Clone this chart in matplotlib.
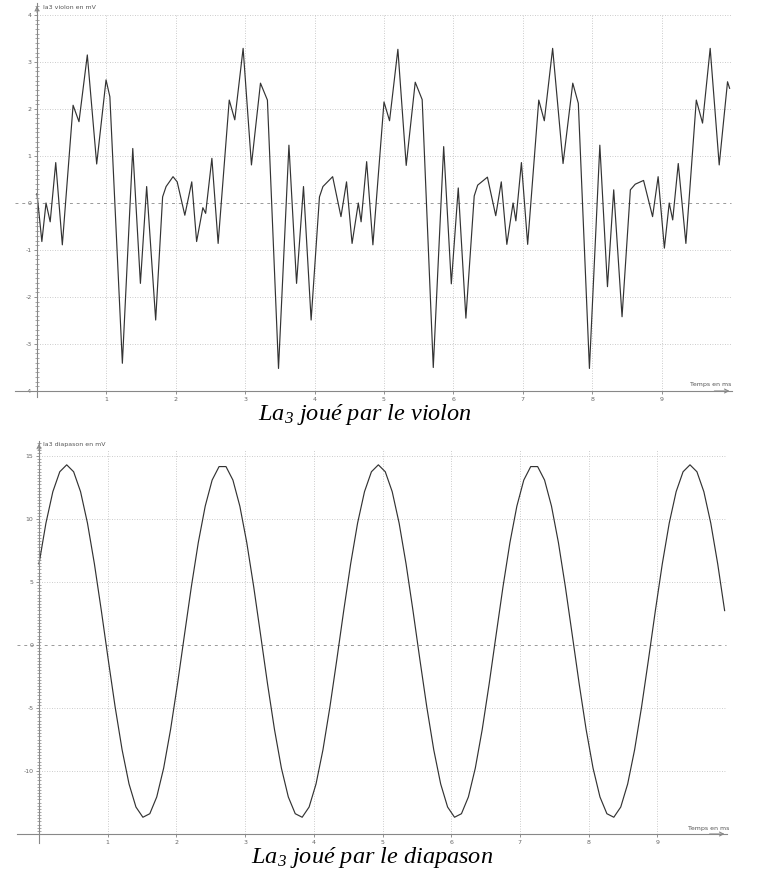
import numpy as np
import matplotlib.pyplot as plt

plt.rcParams['axes.unicode_minus'] = False
plt.rcParams['mathtext.fontset'] = 'custom'
plt.rcParams['mathtext.rm'] = 'Liberation Serif:italic'
plt.rcParams['mathtext.it'] = 'Liberation Serif:italic'

# trace of the violin (time in ms, tension in mV)
violon_t = [0.00, 0.07, 0.13, 0.19, 0.27, 0.365, 0.52, 0.605, 0.725, 0.86, 0.995, 1.05,
            1.23, 1.38, 1.49, 1.58, 1.71, 1.81, 1.86, 1.96, 2.02, 2.13, 2.23, 2.30,
            2.39, 2.43, 2.52, 2.61, 2.77, 2.85, 2.97, 3.09, 3.22, 3.32, 3.48, 3.63,
            3.74, 3.84, 3.95, 4.07, 4.12, 4.26, 4.38, 4.46, 4.54, 4.63, 4.67, 4.75,
            4.84, 5.00, 5.08, 5.20, 5.32, 5.45, 5.55, 5.71, 5.86, 5.97, 6.07, 6.18,
            6.30, 6.35, 6.49, 6.61, 6.69, 6.77, 6.86, 6.90, 6.98, 7.07, 7.23, 7.31,
            7.43, 7.58, 7.72, 7.80, 7.96, 8.11, 8.22, 8.31, 8.43, 8.55, 8.62, 8.74,
            8.87, 8.95, 9.04, 9.11, 9.16, 9.24, 9.35, 9.50, 9.59, 9.70, 9.83, 9.95, 9.98]
violon_v = [0.20, -0.82, 0.00, -0.40, 0.86, -0.89, 2.08, 1.73, 3.15, 0.83, 2.62, 2.26,
            -3.41, 1.16, -1.71, 0.35, -2.49, 0.13, 0.35, 0.56, 0.45, -0.26, 0.45, -0.82,
            -0.10, -0.22, 0.95, -0.86, 2.19, 1.77, 3.29, 0.81, 2.55, 2.19, -3.52, 1.23,
            -1.71, 0.35, -2.49, 0.13, 0.35, 0.56, -0.29, 0.45, -0.86, 0.00, -0.40, 0.88,
            -0.89, 2.15, 1.75, 3.27, 0.80, 2.57, 2.20, -3.50, 1.20, -1.72, 0.32, -2.45,
            0.15, 0.38, 0.55, -0.27, 0.45, -0.88, 0.00, -0.38, 0.86, -0.88, 2.19, 1.75,
            3.29, 0.84, 2.55, 2.12, -3.52, 1.23, -1.78, 0.28, -2.42, 0.28, 0.40, 0.48,
            -0.29, 0.56, -0.96, 0.00, -0.36, 0.84, -0.86, 2.19, 1.70, 3.29, 0.81, 2.58, 2.44]

# tuning fork trace, 100 samples over the capture
diapason_t = np.linspace(0, 9.98, 100)
diapason_v = [6.44, 9.67, 12.17, 13.75, 14.30, 13.75, 12.17, 9.67, 6.44, 2.73,
              -1.17, -4.94, -8.32, -11.03, -12.86, -13.67, -13.39, -12.06, -9.77, -6.70,
              -3.09, 0.79, 4.63, 8.13, 11.02, 13.09, 14.16, 14.16, 13.09, 11.02,
              8.13, 4.63, 0.79, -3.09, -6.70, -9.77, -12.06, -13.39, -13.67, -12.86,
              -11.03, -8.32, -4.94, -1.17, 2.73,
              6.44, 9.67, 12.17, 13.75, 14.30, 13.75, 12.17, 9.67, 6.44, 2.73,
              -1.17, -4.94, -8.32, -11.03, -12.86, -13.67, -13.39, -12.06, -9.77, -6.70,
              -3.09, 0.79, 4.63, 8.13, 11.02, 13.09, 14.16, 14.16, 13.09, 11.02,
              8.13, 4.63, 0.79, -3.09, -6.70, -9.77, -12.06, -13.39, -13.67, -12.86,
              -11.03, -8.32, -4.94, -1.17, 2.73,
              6.44, 9.67, 12.17, 13.75, 14.30, 13.75, 12.17, 9.67, 6.44, 2.73]

x_ticks = [1, 2, 3, 4, 5, 6, 7, 8, 9]
violon_yticks = [-4, -3, -2, -1, 0, 1, 2, 3, 4]
violon_ylabels = ['-4', '-3', '-2', '-1', '0', '1', '2', '3', '4']
diapason_yticks = [-15, -10, -5, 0, 5, 10, 15]
diapason_ylabels = ['', '-10', '-5', '0', '5', '10', '15']

W, H = 765, 881
fig = plt.figure(figsize=(W / 100, H / 100), dpi=100)


def make_axes(x0, x1, y0, y1):
    # pixel box -> figure fraction
    return fig.add_axes([x0 / W, 1 - y1 / H, (x1 - x0) / W, (y1 - y0) / H])


def draw_scope(ax, t, v, xlim, ylim, yticks, ylabels, ytop, minor, ylabel, xlab_pos, ylab_pos):
    ax.set_xlim(*xlim)
    ax.set_ylim(*ylim)
    yaxis_v = yticks[0]
    for s in ['top', 'right']:
        ax.spines[s].set_visible(False)
    ax.spines['left'].set_position(('data', 0))
    ax.spines['bottom'].set_position(('data', yaxis_v))
    ax.spines['left'].set_color('#888888')
    ax.spines['bottom'].set_color('#888888')
    ax.spines['left'].set_linewidth(0.8)
    ax.spines['bottom'].set_linewidth(0.8)

    ax.set_xticks(x_ticks)
    ax.set_yticks(yticks)
    ax.set_yticklabels(ylabels)
    ax.set_yticks(np.arange(yticks[0], ylim[1], minor), minor=True)
    ax.tick_params(axis='both', which='major', labelsize=4.5, colors='#666666',
                   length=2, width=0.5, pad=2)
    ax.tick_params(axis='y', which='minor', length=2.5, width=0.6, direction='inout',
                   colors='#999999')

    # dotted grid and dashed zero line
    for xv in x_ticks:
        ax.plot([xv, xv], [yaxis_v, ytop], ls=(0, (1, 2)), color='#bbbbbb', lw=0.6)
    for yv in yticks[1:]:
        if yv == 0:
            continue
        ax.plot([0, 10.0], [yv, yv], ls=(0, (1, 2)), color='#bbbbbb', lw=0.6)
    ax.plot([xlim[0], 10.0], [0, 0], ls=(0, (3, 4)), color='#999999', lw=0.7)

    # arrow heads of the axes
    ax.annotate('', xy=(xlim[1], yaxis_v), xytext=(xlim[1] - 0.3, yaxis_v),
                arrowprops=dict(arrowstyle='->', color='#888888', lw=0.8,
                                mutation_scale=7))
    ax.annotate('', xy=(0, ylim[1]), xytext=(0, ylim[1] - (ylim[1] - ylim[0]) * 0.03),
                arrowprops=dict(arrowstyle='->', color='#888888', lw=0.8,
                                mutation_scale=7))

    ax.plot(t, v, color='#333333', lw=0.85)

    ax.text(ylab_pos[0], ylab_pos[1], ylabel, fontsize=4.5, color='#555555',
            ha='left', va='center')
    ax.text(xlab_pos[0], xlab_pos[1], 'Temps en ms', fontsize=4.5, color='#555555',
            ha='left', va='center')


# violin: t=0 at x=37 px, 69.4 px/ms ; v=0 at y=203 px, 47 px/mV
ax1 = make_axes(37 - 0.32 * 69.4, 37 + 10.02 * 69.4, 203 - 4.25 * 47, 203 + 4.13 * 47)
draw_scope(ax1, violon_t, violon_v, (-0.32, 10.02), (-4.13, 4.25), violon_yticks,
           violon_ylabels, 4.0, 0.1, 'la3 violon en mV', (9.41, -3.87), (0.09, 4.15))

# tuning fork: t=0 at x=39 px, 68.7 px/ms ; v=0 at y=645 px, 12.6 px/mV
ax2 = make_axes(39 - 0.32 * 68.7, 39 + 10.02 * 68.7, 645 - 16.2 * 12.6, 645 + 15.7 * 12.6)
draw_scope(ax2, diapason_t, diapason_v, (-0.32, 10.02), (-15.7, 16.2), diapason_yticks,
           diapason_ylabels, 15.5, 0.25, 'la3 diapason en mV', (9.45, -14.6), (0.06, 15.9))

fig.text(365 / W, 1 - 415 / H, r'La$_{3}$ joué par le violon', fontsize=17.5,
         family='Liberation Serif', style='italic', ha='center', va='center')
fig.text(372 / W, 1 - 857 / H, r'La$_{3}$ joué par le diapason', fontsize=17.5,
         family='Liberation Serif', style='italic', ha='center', va='center')

fig.savefig('out.png', dpi=100, facecolor='white')
